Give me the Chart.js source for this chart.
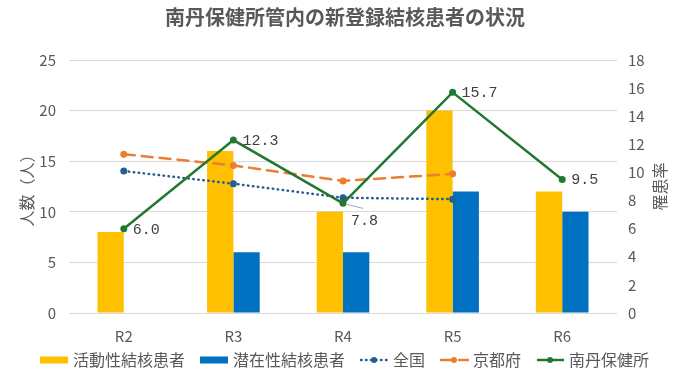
<!DOCTYPE html>
<html lang="ja">
<head>
<meta charset="utf-8">
<script src="https://cdn.jsdelivr.net/npm/chart.js@4.4.0/dist/chart.umd.min.js"></script>
<style>
  html, body { margin: 0; padding: 0; background: #fff; }
</style>
</head>
<body>
<canvas id="chart" width="690" height="368"></canvas>
<script>
// データ（人数は左軸、罹患率は右軸）
const years   = ['R2', 'R3', 'R4', 'R5', 'R6'];
const active  = [8, 16, 10, 20, 12];           // 活動性結核患者
const latent  = [0, 6, 6, 12, 10];             // 潜在性結核患者
const zenkoku = [10.1, 9.2, 8.2, 8.1, null];   // 全国 罹患率
const kyoto   = [11.3, 10.5, 9.4, 9.9, null];  // 京都府 罹患率
const nantan  = [6.0, 12.3, 7.8, 15.7, 9.5];   // 南丹保健所 罹患率

const GRAY = '#595959';
Chart.defaults.font.family = '"Noto Sans CJK JP", "Noto Sans", sans-serif';
Chart.defaults.color = GRAY;

// 南丹保健所の値ラベル
const valueLabels = {
  id: 'valueLabels',
  afterDatasetsDraw(chart) {
    const meta = chart.getDatasetMeta(4);
    const ctx = chart.ctx;
    ctx.save();
    ctx.font = '15px "Liberation Mono", monospace';
    ctx.fillStyle = '#404040';
    ctx.textBaseline = 'middle';
    meta.data.forEach((pt, i) => {
      let dx = 9, dy = 1;
      if (i === 2) {
        // R4 は下にずらして引き出し線
        dx = 8; dy = 18;
        ctx.strokeStyle = '#a6a6a6';
        ctx.lineWidth = 1;
        ctx.beginPath();
        ctx.moveTo(pt.x + 4, pt.y + 1);
        ctx.lineTo(pt.x + 20, pt.y + 5);
        ctx.stroke();
      }
      ctx.fillText(nantan[i].toFixed(1), pt.x + dx, pt.y + dy);
    });
    ctx.restore();
  }
};

// 右軸タイトル（下から上へ読む向き）
const rightTitle = {
  id: 'rightTitle',
  afterDraw(chart) {
    const s = chart.scales.y1;
    const ctx = chart.ctx;
    ctx.save();
    ctx.translate(s.right - 30, (s.top + s.bottom) / 2);
    ctx.rotate(-Math.PI / 2);
    ctx.font = '16px "Noto Sans CJK JP", sans-serif';
    ctx.fillStyle = GRAY;
    ctx.textAlign = 'center';
    ctx.textBaseline = 'middle';
    ctx.fillText('罹患率', 0, 0);
    ctx.restore();
  }
};

// 下部の凡例（Excel風の記号）
const bottomLegend = {
  id: 'bottomLegend',
  afterDraw(chart) {
    const ctx = chart.ctx;
    const y = 360, sym = 28, gap = 5, space = 15;
    ctx.save();
    ctx.font = '16px "Noto Sans CJK JP", sans-serif';
    ctx.textBaseline = 'middle';
    const items = chart.data.datasets.map(ds => ({ ds, w: ctx.measureText(ds.label).width }));
    const total = items.reduce((s, it) => s + sym + gap + it.w, 0) + space * (items.length - 1);
    let x = Math.round((chart.width - total) / 2);
    items.forEach(({ ds, w }) => {
      if (ds.type === 'bar') {
        ctx.fillStyle = ds.backgroundColor;
        ctx.fillRect(x, y - 3.5, sym, 7);
      } else {
        ctx.strokeStyle = ds.borderColor;
        ctx.lineWidth = ds.borderWidth;
        ctx.lineCap = ds.borderCapStyle || 'butt';
        ctx.setLineDash(ds.borderDash || []);
        ctx.beginPath();
        ctx.moveTo(x + 1, y);
        ctx.lineTo(x + sym, y);
        ctx.stroke();
        ctx.setLineDash([]);
        ctx.fillStyle = ds.borderColor;
        ctx.beginPath();
        ctx.arc(x + sym / 2, y, 3, 0, Math.PI * 2);
        ctx.fill();
      }
      ctx.fillStyle = GRAY;
      ctx.fillText(ds.label, x + sym + gap, y);
      x += sym + gap + w + space;
    });
    ctx.restore();
  }
};

const lineBase = { type: 'line', yAxisID: 'y1', borderWidth: 2.5, tension: 0, pointRadius: 3.5, pointBorderWidth: 0, spanGaps: false };

new Chart(document.getElementById('chart'), {
  data: {
    labels: years,
    datasets: [
      { type: 'bar', label: '活動性結核患者', data: active, backgroundColor: '#FFC000', yAxisID: 'y', order: 4,
        barPercentage: 1, categoryPercentage: 0.48 },
      { type: 'bar', label: '潜在性結核患者', data: latent, backgroundColor: '#0070C0', yAxisID: 'y', order: 5,
        barPercentage: 1, categoryPercentage: 0.48 },
      { ...lineBase, label: '全国', data: zenkoku, borderColor: '#255E91', backgroundColor: '#255E91',
        pointBackgroundColor: '#255E91', borderDash: [0.5, 4.5], borderCapStyle: 'round', order: 2 },
      { ...lineBase, label: '京都府', data: kyoto, borderColor: '#ED7D31', backgroundColor: '#ED7D31',
        pointBackgroundColor: '#ED7D31', borderDash: [11, 7], borderCapStyle: 'round', order: 1 },
      { ...lineBase, label: '南丹保健所', data: nantan, borderColor: '#23782F', backgroundColor: '#23782F',
        pointBackgroundColor: '#23782F', order: 0 }
    ]
  },
  options: {
    responsive: false,
    animation: false,
    devicePixelRatio: 1,
    layout: { padding: 0 },
    plugins: {
      legend: { display: false },
      tooltip: { enabled: false },
      title: {
        display: true,
        text: '南丹保健所管内の新登録結核患者の状況',
        color: GRAY,
        font: { size: 20, weight: 'bold' },
        padding: { top: 5, bottom: 31 }
      }
    },
    scales: {
      x: {
        grid: { display: false },
        border: { display: false },
        ticks: { color: GRAY, font: { size: 15 }, padding: 6 },
        afterFit(s) { s.height = 55; }
      },
      y: {
        position: 'left',
        min: 0, max: 25,
        ticks: { stepSize: 5, color: GRAY, font: { size: 15 }, padding: 13 },
        grid: { color: '#D9D9D9', drawTicks: false },
        border: { display: false },
        title: { display: true, text: '人数（人）', color: GRAY, font: { size: 16 }, padding: { top: 17, bottom: 0 } },
        afterFit(s) { s.width = 69; }
      },
      y1: {
        position: 'right',
        min: 0, max: 18,
        ticks: { stepSize: 2, color: GRAY, font: { size: 15 }, padding: 11 },
        grid: { display: false, drawTicks: false },
        border: { display: false },
        afterFit(s) { s.width = 73; }
      }
    }
  },
  plugins: [valueLabels, rightTitle, bottomLegend]
});
</script>
</body>
</html>
